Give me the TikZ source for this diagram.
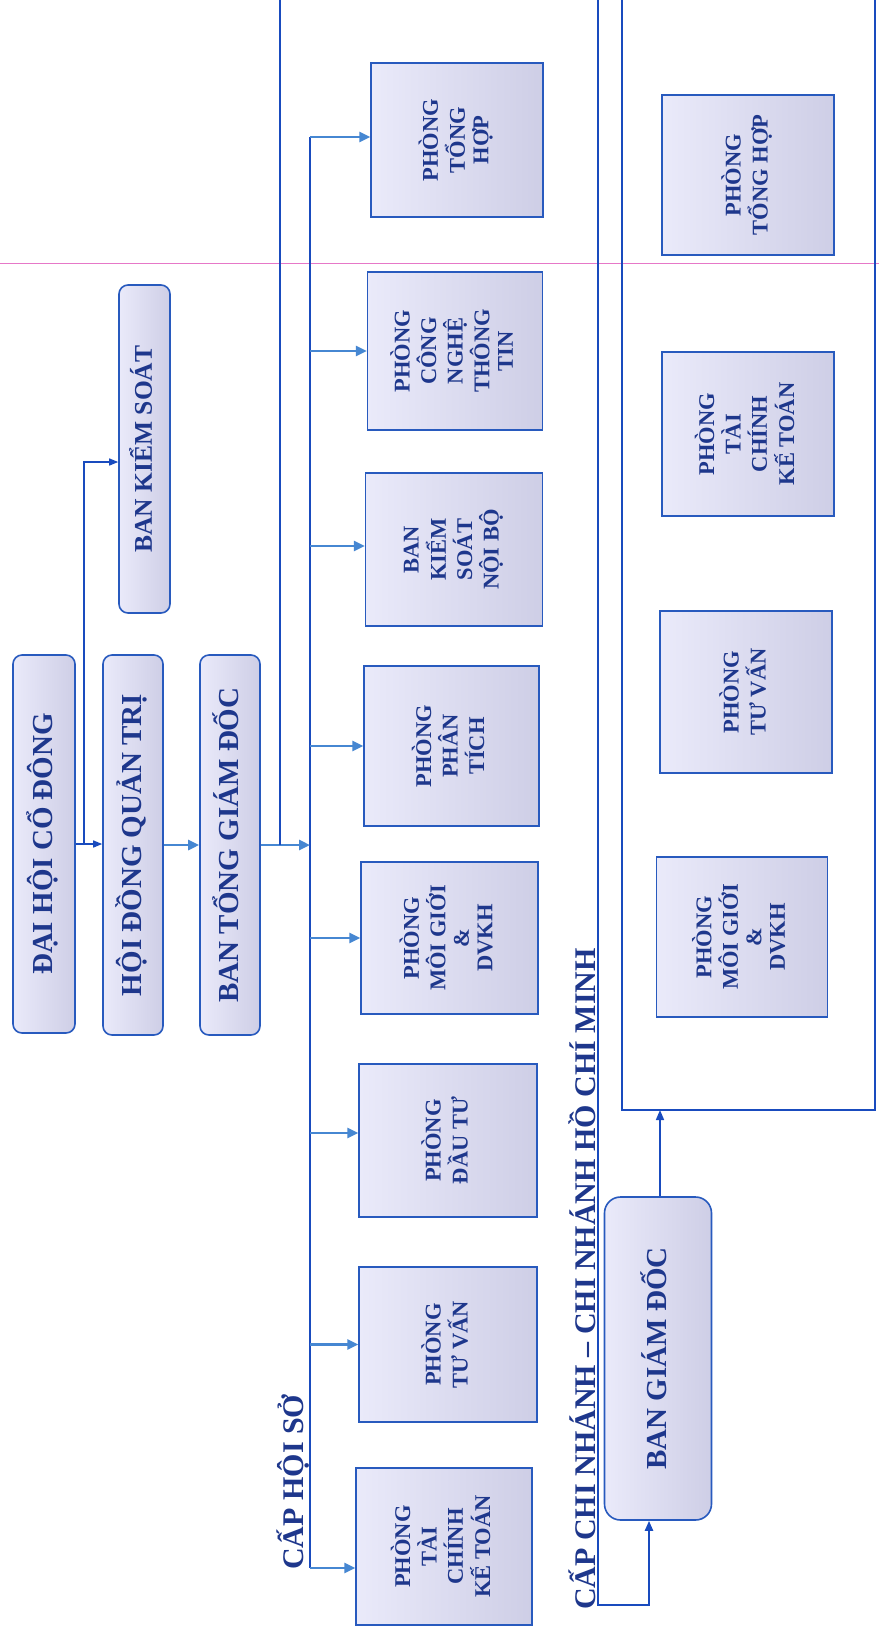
\documentclass[tikz,border=0pt]{standalone}
\usepackage{fontspec}
\setmainfont{Liberation Serif}
\usepackage{graphicx}
\usetikzlibrary{arrows.meta}
\definecolor{txt}{RGB}{30,55,140}
\definecolor{boxborder}{RGB}{40,90,190}
\definecolor{lineblue}{RGB}{25,75,190}
\definecolor{arrblue}{RGB}{70,135,210}
\definecolor{boxL}{RGB}{234,234,250}
\definecolor{boxR}{RGB}{206,206,230}
\definecolor{pinkline}{RGB}{230,120,200}
\newcommand{\rottx}[1]{\rotatebox{90}{\begin{tabular}{@{}c@{}}#1\end{tabular}}}
\tikzset{
  topbox/.style={draw=boxborder, line width=1.6pt, rounded corners=9pt,
    left color=boxL, right color=boxR, inner sep=0pt, text=txt,
    font=\bfseries\fontsize{29}{31}\selectfont},
  dept/.style={draw=boxborder, line width=1.4pt,
    left color=boxL, right color=boxR, inner sep=0pt, text=txt,
    font=\bfseries\fontsize{22.5}{23.5}\selectfont},
  lvl/.style={rotate=90, anchor=base west, inner sep=0pt, text=txt,
    font=\bfseries\fontsize{30}{32}\selectfont},
  conn/.style={draw=lineblue, line width=2.2pt},
  arr/.style={draw=arrblue, line width=2.6pt, -{Triangle[length=11pt,width=10pt]}},
  thinarr/.style={draw=lineblue, line width=1.4pt, -{Triangle[length=9pt,width=7pt]}}
}
\begin{document}
\begin{tikzpicture}[x=1pt,y=-1pt]
\fill[white] (0,0) rectangle (879,1634);
\useasboundingbox (0,0) rectangle (879,1634);
\draw[pinkline, line width=0.8pt] (0,263) -- (879,263);

% top level
\node[topbox, minimum width=62pt, minimum height=378pt] (dhcd) at (44,844) {\rottx{ĐẠI HỘI CỔ ĐÔNG}};
\node[topbox, minimum width=60pt, minimum height=380pt] (hdqt) at (133,845) {\rottx{HỘI ĐỒNG QUẢN TRỊ}};
\node[topbox, minimum width=60pt, minimum height=380pt] (btgd) at (230,845) {\rottx{BAN TỔNG GIÁM ĐỐC}};
\node[topbox, minimum width=51pt, minimum height=328pt, font=\bfseries\fontsize{25.5}{27}\selectfont] (bks) at (144.5,449) {\rottx{BAN KIỂM SOÁT}};
\node[topbox, rounded corners=16pt, minimum width=107pt, minimum height=323pt] (bgd) at (658,1358.5) {\rottx{BAN GIÁM ĐỐC}};

% head office departments
\node[dept, minimum width=172pt, minimum height=154pt] (h1) at (457,140) {\rottx{PHÒNG\\TỔNG\\HỢP}};
\node[dept, minimum width=175pt, minimum height=158pt] (h2) at (455,351) {\rottx{PHÒNG\\CÔNG\\NGHỆ\\THÔNG\\TIN}};
\node[dept, minimum width=177pt, minimum height=153pt] (h3) at (454,549.5) {\rottx{BAN\\KIỂM\\SOÁT\\NỘI BỘ}};
\node[dept, minimum width=175pt, minimum height=160pt] (h4) at (451.5,746) {\rottx{PHÒNG\\PHÂN\\TÍCH}};
\node[dept, minimum width=177pt, minimum height=152pt] (h5) at (449.5,938) {\rottx{PHÒNG\\MÔI GIỚI\\\&\\DVKH}};
\node[dept, minimum width=178pt, minimum height=153pt] (h6) at (448,1140.5) {\rottx{PHÒNG\\ĐẦU TƯ}};
\node[dept, minimum width=178pt, minimum height=155pt] (h7) at (448,1344.5) {\rottx{PHÒNG\\TƯ VẤN}};
\node[dept, minimum width=176pt, minimum height=157pt] (h8) at (444,1546.5) {\rottx{PHÒNG\\TÀI\\CHÍNH\\KẾ TOÁN}};

% branch departments
\node[dept, minimum width=172pt, minimum height=160pt] (b1) at (748,175) {\rottx{PHÒNG\\TỔNG HỢP}};
\node[dept, minimum width=172pt, minimum height=164pt] (b2) at (748,434) {\rottx{PHÒNG\\TÀI\\CHÍNH\\KẾ TOÁN}};
\node[dept, minimum width=172pt, minimum height=162pt] (b3) at (746,692) {\rottx{PHÒNG\\TƯ VẤN}};
\node[dept, minimum width=171pt, minimum height=160pt] (b4) at (742,937) {\rottx{PHÒNG\\MÔI GIỚI\\\&\\DVKH}};

% labels
\node[lvl] (lblhq) at (303,1570) {CẤP HỘI SỞ};
\node[lvl] (lblcn) at (595,1610) {CẤP CHI NHÁNH – CHI NHÁNH HỒ CHÍ MINH};

% top connectors
\draw[thinarr] (dhcd.east) -- (dhcd.east -| hdqt.west);
\coordinate (jk) at (84,845);
\draw[thinarr] (jk) -- (84,462) -- (bks.west |- 0,462);
\draw[arr] (hdqt.east) -- (hdqt.east -| btgd.west);

% head office bus
\coordinate (bustop) at (310,137);
\coordinate (busbot) at (310,1568);
\draw[conn] (bustop) -- (busbot);
\draw[arr] (btgd.east) -- (btgd.east -| bustop);
\draw[conn] (280,845) -- (280,0);
\draw[arr] (bustop) -- (h1.west |- bustop);
\draw[arr] (h2.west -| bustop) -- (h2.west);
\draw[arr] (310,546) -- (h3.west |- 0,546);
\draw[arr] (h4.west -| bustop) -- (h4.west);
\draw[arr] (h5.west -| bustop) -- (h5.west);
\draw[arr] (310,1133) -- (h6.west |- 0,1133);
\draw[arr] (h7.west -| bustop) -- (h7.west);
\draw[arr] (busbot) -- (h8.west |- busbot);

% branch
\coordinate (cntop) at (598,0);
\coordinate (cnbot) at (598,1605);
\draw[conn, -{Triangle[length=10pt,width=8pt]}] (cntop) -- (cnbot) -- (649,1605) -- (bgd.south -| 649,0);
\draw[conn] (622,0) -- (622,1110) -- (875,1110) -- (875,0);
\coordinate (frbot) at (660,1110);
\draw[draw=lineblue, line width=1.6pt, -{Triangle[length=10pt,width=8pt]}] (bgd.north -| frbot) -- (frbot);
\end{tikzpicture}
\end{document}
